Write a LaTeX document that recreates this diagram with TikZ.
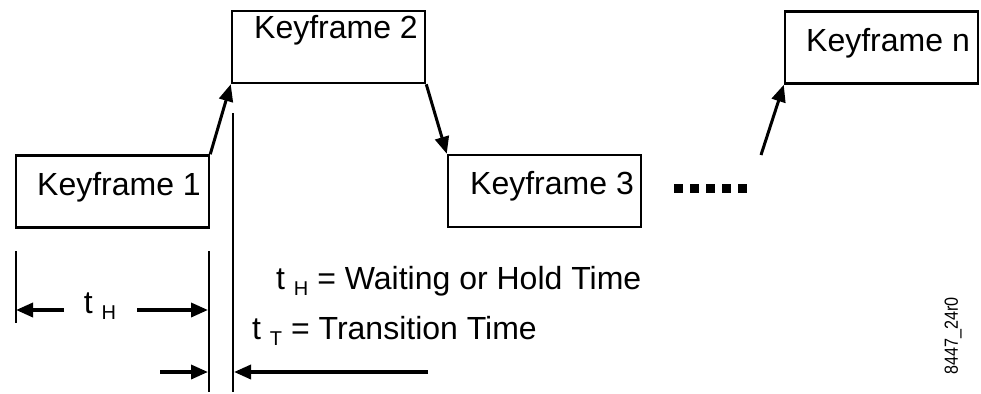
\documentclass[tikz,border=0pt]{standalone}
\usepackage{fontspec}
\setmainfont{Liberation Sans}
\usetikzlibrary{arrows.meta}
\newcommand{\tsub}[1]{\raisebox{-6pt}{\fontsize{20pt}{21pt}\selectfont #1}}
\begin{document}
\begin{tikzpicture}[x=1pt, y=-1pt, >={Triangle[length=17pt,width=14pt]},
    frame/.style={draw, line width=2.5pt, minimum width=193pt, minimum height=72pt, inner sep=0pt},
    kftext/.style={anchor=base west, inner sep=0pt, font=\fontsize{32pt}{37pt}\selectfont},
    conn/.style={->, line width=3pt},
    guide/.style={line width=2pt},
    dim/.style={->, line width=3.5pt}]
    \useasboundingbox (0,0) rectangle (981,393);

    % Keyframes
    \node[frame] (kf1) at (112.5, 191.5) {};
    \node[frame] (kf2) at (328.5, 47) {};
    \node[frame] (kf3) at (544.5, 191) {};
    \node[frame] (kfn) at (881.5, 47.5) {};
    \node[kftext] (kf1t) at (37, 195) {Keyframe 1};
    \node[kftext] (kf2t) at (254, 39) {Keyframe 2};
    \node[kftext] (kf3t) at (470, 194) {Keyframe 3};
    \node[kftext] (kfnt) at (806, 52) {Keyframe n};

    % Transitions
    \coordinate (fromdots) at (761, 155);
    \draw[conn] (kf1.north east) -- (kf2.south west);
    \draw[conn] (kf2.south east) -- (kf3.north west);
    \draw[conn] (fromdots) -- (kfn.south west);

    % More keyframes
    \draw[line width=9pt, dash pattern=on 9pt off 7pt] (674, 188.5) -- (747, 188.5);

    % Guide lines
    \coordinate (h0top) at (16, 251);
    \coordinate (h0bot) at (16, 323);
    \coordinate (h1top) at (209, 251);
    \coordinate (h1bot) at (209, 392);
    \coordinate (t1top) at (233, 113);
    \coordinate (t1bot) at (233, 392);
    \draw[guide] (h0top) -- (h0bot);
    \draw[guide] (h1top) -- (h1bot);
    \draw[guide] (t1top) -- (t1bot);

    % Hold time
    \node[kftext, anchor=base] (tH) at (100, 313) {t \tsub{H}};
    \coordinate (hl) at (64, 310);
    \coordinate (hr) at (137, 310);
    \draw[dim] (hl) -- (16, 310);
    \draw[dim] (hr) -- (208, 310);

    % Transition time
    \coordinate (tl) at (160, 372);
    \coordinate (tr) at (428, 372);
    \draw[dim] (tl) -- (208, 372);
    \draw[dim] (tr) -- (234, 372);

    % Legend
    \node[kftext] (legH) at (276, 289) {t \tsub{H} = Waiting or Hold Time};
    \node[kftext] (legT) at (252, 339) {t \tsub{T} = Transition Time};

    % Figure number
    \node[rotate=90, inner sep=0pt, font=\fontsize{19pt}{20pt}\selectfont] (fig) at (953, 336) {\scalebox{0.85}[1]{8447\_24r0}};
\end{tikzpicture}
\end{document}
